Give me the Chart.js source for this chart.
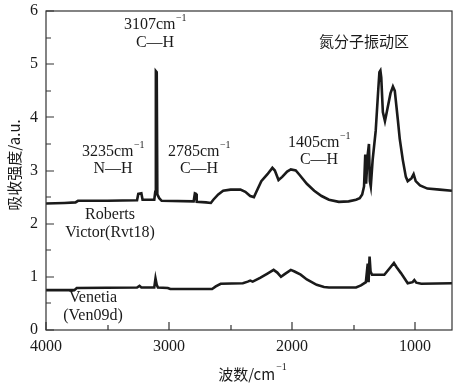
<!DOCTYPE html>
<html>
<head>
<meta charset="utf-8">
<script src="https://cdn.jsdelivr.net/npm/chart.js@4/dist/chart.umd.min.js"></script>
<style>
html,body{margin:0;padding:0;background:#fff;}
canvas{display:block;}
</style>
</head>
<body>
<canvas id="c" width="466" height="391"></canvas>
<script>
// ---- data ----
const rvWavenumber = [4000,3850,3760,3740,3500,3260,3250,3225,3215,3120,3112,3107,3100,3095,3080,3060,2800,2790,2780,2775,2700,2660,2640,2600,2560,2500,2420,2380,2340,2310,2290,2250,2200,2160,2140,2110,2080,2040,2010,1970,1940,1880,1820,1760,1700,1620,1540,1480,1450,1430,1415,1405,1398,1385,1375,1368,1360,1345,1320,1300,1290,1282,1275,1262,1245,1230,1200,1180,1165,1140,1125,1100,1075,1060,1030,1012,995,960,900,800,700];
const rvAbsorbance = [2.38,2.39,2.40,2.43,2.43,2.44,2.56,2.57,2.45,2.45,2.60,4.87,4.85,2.55,2.48,2.43,2.42,2.57,2.56,2.41,2.40,2.39,2.45,2.55,2.62,2.64,2.64,2.60,2.52,2.50,2.60,2.80,2.93,3.05,3.00,2.82,2.88,2.98,3.02,3.00,2.92,2.75,2.62,2.52,2.45,2.41,2.42,2.45,2.48,2.55,2.70,3.30,2.75,3.30,3.50,2.80,2.70,3.20,3.75,4.50,4.85,4.88,4.75,4.10,3.93,4.10,4.45,4.58,4.50,3.95,3.60,3.20,2.88,2.80,2.85,2.93,2.80,2.72,2.66,2.64,2.62];
const venWavenumber = [4000,3770,3750,3260,3240,3225,3120,3110,3100,3090,3010,2990,2650,2620,2580,2400,2360,2340,2320,2260,2200,2150,2120,2090,2060,2010,1980,1930,1880,1800,1740,1700,1480,1440,1400,1385,1378,1370,1362,1350,1250,1200,1172,1150,1115,1080,1060,1020,1006,990,950,700];
const venAbsorbance = [0.75,0.75,0.79,0.80,0.83,0.80,0.80,0.97,0.85,0.80,0.79,0.77,0.77,0.82,0.87,0.88,0.91,0.93,0.91,0.98,1.06,1.13,1.08,1.00,1.05,1.13,1.10,1.04,0.95,0.85,0.81,0.80,0.80,0.84,0.90,1.25,0.90,1.38,1.10,1.04,1.04,1.18,1.26,1.18,1.07,0.95,0.88,0.90,0.94,0.89,0.87,0.88];
const xMajorTicks = [4000,3000,2000,1000];
const xMinorTicks = [3500,2500,1500];
const yMajorTicks = [0,1,2,3,4,5,6];
const yMinorTicks = [0.5,1.5,2.5,3.5,4.5,5.5];

const SERIF = '"Liberation Serif","Times New Roman",serif';
const CJK = '"Noto Sans CJK SC","Noto Sans",sans-serif';
const INK = '#1a1a1a';

function textSup(ctx, base, sup, x, y, size) {
  ctx.font = size + 'px ' + SERIF;
  const wb = ctx.measureText(base).width;
  ctx.font = Math.round(size*0.62) + 'px ' + SERIF;
  const ws = ctx.measureText(sup).width;
  const total = wb + ws;
  let x0 = x - total/2;
  ctx.textAlign = 'left';
  ctx.textBaseline = 'middle';
  ctx.font = size + 'px ' + SERIF;
  ctx.fillText(base, x0, y);
  ctx.font = Math.round(size*0.62) + 'px ' + SERIF;
  ctx.fillText(sup, x0 + wb + 0.5, y - size*0.42);
}

const decor = {
  id: 'decor',
  afterDraw(chart) {
    const {ctx, chartArea: a, scales: {x, y}} = chart;
    ctx.save();
    ctx.strokeStyle = '#333';
    ctx.lineWidth = 1.2;
    ctx.strokeRect(a.left, a.top, a.right - a.left, a.bottom - a.top);
    ctx.beginPath();
    xMajorTicks.forEach(v => { const p = Math.round(x.getPixelForValue(v)); ctx.moveTo(p, a.bottom); ctx.lineTo(p, a.bottom - 8); });
    xMinorTicks.forEach(v => { const p = Math.round(x.getPixelForValue(v)); ctx.moveTo(p, a.bottom); ctx.lineTo(p, a.bottom - 5); });
    yMajorTicks.forEach(v => { const p = Math.round(y.getPixelForValue(v)); ctx.moveTo(a.left, p); ctx.lineTo(a.left + 8, p); });
    yMinorTicks.forEach(v => { const p = Math.round(y.getPixelForValue(v)); ctx.moveTo(a.left, p); ctx.lineTo(a.left + 5, p); });
    ctx.stroke();

    ctx.fillStyle = INK;
    textSup(ctx, '3107cm', '−1', 155, 25, 16);
    ctx.textAlign = 'center'; ctx.font = '16px ' + SERIF; ctx.fillText('C—H', 155, 43);
    textSup(ctx, '3235cm', '−1', 113, 152, 16);
    ctx.textAlign = 'center'; ctx.font = '16px ' + SERIF; ctx.fillText('N—H', 113, 169);
    textSup(ctx, '2785cm', '−1', 199, 152, 16);
    ctx.textAlign = 'center'; ctx.font = '16px ' + SERIF; ctx.fillText('C—H', 199, 169);
    textSup(ctx, '1405cm', '−1', 319, 143, 16);
    ctx.textAlign = 'center'; ctx.font = '16px ' + SERIF; ctx.fillText('C—H', 319, 160);
    ctx.font = '15px ' + CJK; ctx.textAlign = 'center'; ctx.textBaseline = 'middle';
    ctx.fillText('氮分子振动区', 364, 41);
    ctx.font = '16px ' + SERIF;
    ctx.fillText('Roberts', 110, 215);
    ctx.fillText('Victor(Rvt18)', 110, 233);
    ctx.fillText('Venetia', 93, 298);
    ctx.fillText('(Ven09d)', 93, 316);

    ctx.font = '15px ' + CJK;
    const t1 = '波数/cm';
    const w1 = ctx.measureText(t1).width;
    ctx.font = '10px ' + SERIF;
    const w2 = ctx.measureText('−1').width;
    const xs = 252 - (w1 + w2)/2;
    ctx.textAlign = 'left';
    ctx.font = '15px ' + CJK;
    ctx.fillText(t1, xs, 374);
    ctx.font = '10px ' + SERIF;
    ctx.fillText('−1', xs + w1 + 1, 367);

    ctx.translate(14, 165);
    ctx.rotate(-Math.PI/2);
    ctx.textAlign = 'center';
    ctx.font = '15px ' + CJK;
    ctx.fillText('吸收强度/a.u.', 0, 0);
    ctx.restore();
  }
};

new Chart(document.getElementById('c'), {
  type: 'line',
  data: {
    datasets: [
      { label: 'Roberts Victor(Rvt18)', data: rvWavenumber.map((w,i)=>({x:w, y:rvAbsorbance[i]})), borderColor: INK, borderWidth: 2.6, pointRadius: 0, tension: 0, fill: false },
      { label: 'Venetia(Ven09d)', data: venWavenumber.map((w,i)=>({x:w, y:venAbsorbance[i]})), borderColor: INK, borderWidth: 2.6, pointRadius: 0, tension: 0, fill: false }
    ]
  },
  options: {
    responsive: false,
    animation: false,
    devicePixelRatio: 1,
    layout: { padding: { top: 11, right: 14, left: 0, bottom: 0 } },
    plugins: { legend: { display: false }, tooltip: { enabled: false } },
    scales: {
      x: {
        type: 'linear', reverse: true, min: 700, max: 4000,
        afterBuildTicks: s => { s.ticks = xMajorTicks.map(v => ({value: v})); },
        afterFit: s => { s.height = 61; s.paddingLeft = 0; s.paddingRight = 0; },
        grid: { display: false, drawTicks: false },
        border: { display: false },
        ticks: { autoSkip: false, maxRotation: 0, padding: 7, color: INK, font: { family: SERIF, size: 16 }, callback: v => String(v) }
      },
      y: {
        type: 'linear', min: 0, max: 6,
        afterBuildTicks: s => { s.ticks = yMajorTicks.map(v => ({value: v})); },
        afterFit: s => { s.width = 46; s.paddingTop = 0; s.paddingBottom = 0; },
        grid: { display: false, drawTicks: false },
        border: { display: false },
        ticks: { padding: 8, color: INK, font: { family: SERIF, size: 16 }, callback: v => String(v) }
      }
    }
  },
  plugins: [decor]
});
</script>
</body>
</html>
